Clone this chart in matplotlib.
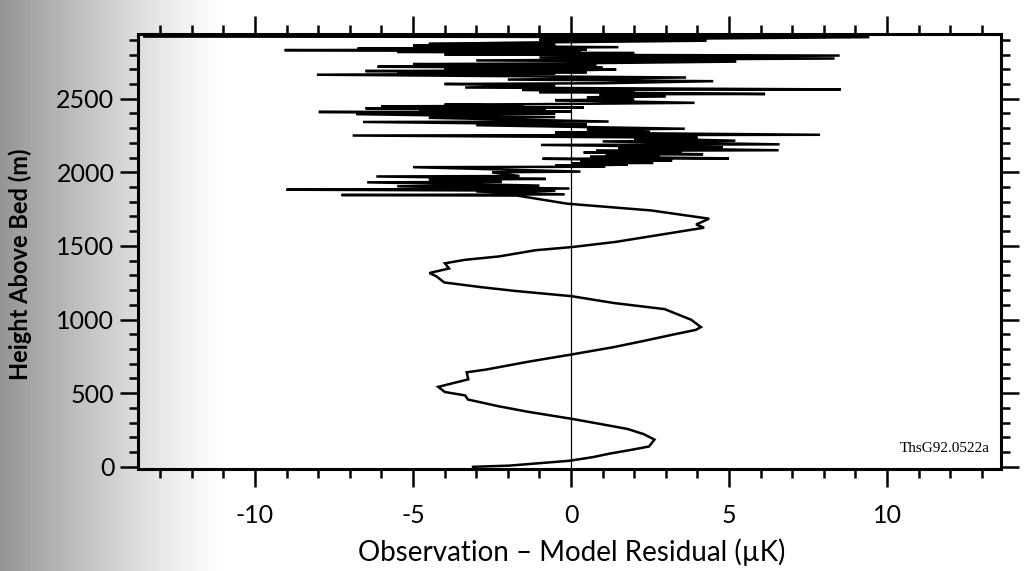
import numpy as np
import matplotlib
matplotlib.use('Agg')
import matplotlib.pyplot as plt
from matplotlib.ticker import MultipleLocator

plt.rcParams['font.family'] = ['Lato', 'DejaVu Sans']
plt.rcParams['axes.unicode_minus'] = False

# residual profile: smooth lower part
resid_low = [-3.10, -1.96, -0.05, 0.70, 1.23, 1.90, 2.47, 2.64, 2.30, 1.79,
             0.90, -0.01, -1.37, -2.31, -3.26, -3.35, -3.99, -4.20, -3.70, -3.25,
             -3.30, -2.70, -1.32, 0.02, 1.33, 2.30, 3.25, 3.95, 4.11, 3.80,
             2.96, 1.37, 0.01, -1.79, -2.84, -4.01, -4.26, -4.48, -3.86, -3.99,
             -3.35, -2.27, -1.12, 0.06, 1.43, 2.80, 4.21, 3.96, 4.37, 2.54,
             -0.12, -1.70]
height_low = [0, 8, 41, 66, 90, 115, 138, 185, 222, 257,
              292, 327, 374, 412, 457, 485, 508, 543, 570, 594,
              642, 660, 715, 763, 812, 855, 899, 930, 949, 999,
              1071, 1112, 1159, 1195, 1220, 1252, 1294, 1316, 1347, 1382,
              1406, 1429, 1471, 1493, 1528, 1575, 1624, 1646, 1685, 1741,
              1787, 1842]

# noisy upper part
resid_high = [-7.26, -0.20, -3.00, -0.50, -9.00, -0.05, -5.50, -1.00, -6.45, -2.20,
              -4.50, -0.80, -6.16, -1.63, -2.50, 0.30, -5.00, 1.08, -0.50, 1.79,
              0.00, 2.60, 0.30, 3.20, -0.90, 5.00, 0.60, 2.80, 1.10, 4.18,
              0.40, 3.50, 0.79, 6.57, 1.50, 4.80, -0.95, 6.60, 1.00, 5.20,
              2.00, 4.00, -6.91, 7.88, -0.50, 2.50, 0.50, 3.60, -3.00, 0.50,
              -6.58, 1.19, -4.50, -0.50, -6.80, -0.50, -7.98, 0.00, -4.80, -0.80,
              -6.50, 0.40, -6.00, -1.50, -4.00, -1.00, 3.91, -0.50, 2.00, 0.50,
              3.00, 0.90, 6.14, -1.00, 2.00, -1.54, 8.53, -3.35, -0.50, -4.00,
              1.00, 4.50, -2.00, 3.64, -8.04, -0.50, -5.50, 0.50, -6.50, -0.30,
              1.43, -4.00, 1.00, -6.12, 0.80, -5.00, 0.00, 5.23, -3.00, 8.34,
              -1.00, 8.50, -4.00, 2.00, -5.50, 0.30, -9.06, 0.50, -6.75, 1.50,
              -5.00, -0.50, -4.50, -2.00, 4.29, -1.00, 9.44, -13.50]
height_high = [1846, 1850, 1870, 1875, 1882, 1890, 1905, 1910, 1932, 1935,
               1950, 1955, 1972, 1975, 2000, 2005, 2035, 2038, 2045, 2052,
               2060, 2064, 2075, 2080, 2092, 2095, 2105, 2110, 2120, 2123,
               2135, 2140, 2146, 2150, 2165, 2170, 2186, 2190, 2210, 2215,
               2230, 2235, 2250, 2255, 2270, 2275, 2290, 2296, 2320, 2325,
               2342, 2345, 2370, 2375, 2395, 2400, 2410, 2413, 2423, 2428,
               2435, 2440, 2448, 2452, 2460, 2463, 2472, 2490, 2495, 2510,
               2515, 2530, 2532, 2545, 2550, 2560, 2563, 2576, 2590, 2600,
               2605, 2619, 2630, 2644, 2663, 2670, 2675, 2680, 2688, 2692,
               2698, 2705, 2710, 2717, 2725, 2735, 2740, 2752, 2760, 2773,
               2780, 2793, 2800, 2810, 2818, 2822, 2830, 2835, 2841, 2850,
               2860, 2866, 2872, 2880, 2894, 2900, 2918, 2922]

resid = np.array(resid_low + resid_high)
height = np.array(height_low + height_high)

xticks = [-10, -5, 0, 5, 10]
yticks = [0, 500, 1000, 1500, 2000, 2500]

fig = plt.figure(figsize=(10.26, 5.71), dpi=100)

# grey shading along the left edge of the page
bg = fig.add_axes([0, 0, 1, 1], zorder=-1)
px = np.arange(1026)
shade = np.clip(px / 225.0, 0, 1)
grey = 1 - 0.42 * (1 - shade) ** 1.2
bg.imshow(grey[np.newaxis, :], cmap='gray', vmin=0, vmax=1, aspect='auto',
          extent=[0, 1, 0, 1])
bg.set_axis_off()

ax = fig.add_axes([0.1345, 0.1786, 0.841, 0.762])
ax.set_facecolor('none')

ax.axvline(0, color='black', lw=0.9)
ax.plot(resid, height, color='black', lw=1.8, solid_joinstyle='miter')

ax.set_xlim(-13.7, 13.6)
ax.set_ylim(-15, 2940)
ax.set_xticks(xticks)
ax.set_xticklabels([str(t) for t in xticks])
ax.set_yticks(yticks)
ax.xaxis.set_minor_locator(MultipleLocator(1))
ax.yaxis.set_minor_locator(MultipleLocator(100))

for s in ax.spines.values():
    s.set_linewidth(2.2)

ax.tick_params(which='both', direction='out', top=True, right=True, width=1.8)
ax.tick_params(which='major', length=13)
ax.tick_params(which='minor', length=6.5)
ax.tick_params(axis='x', which='major', labelsize=18, pad=12)
ax.tick_params(axis='y', which='major', labelsize=18, pad=4)

ax.set_xlabel('Observation – Model Residual (µK)', fontsize=20)
ax.xaxis.set_label_coords(0.503, -0.16)
ax.set_ylabel('Height Above Bed (m)', fontsize=17, fontweight='bold')
ax.yaxis.set_label_coords(-0.123, 0.47)

ax.text(0.987, 0.048, 'ThsG92.0522a', transform=ax.transAxes,
        ha='right', va='center', fontsize=11, family='Liberation Serif')

fig.savefig('out.png', dpi=100)
